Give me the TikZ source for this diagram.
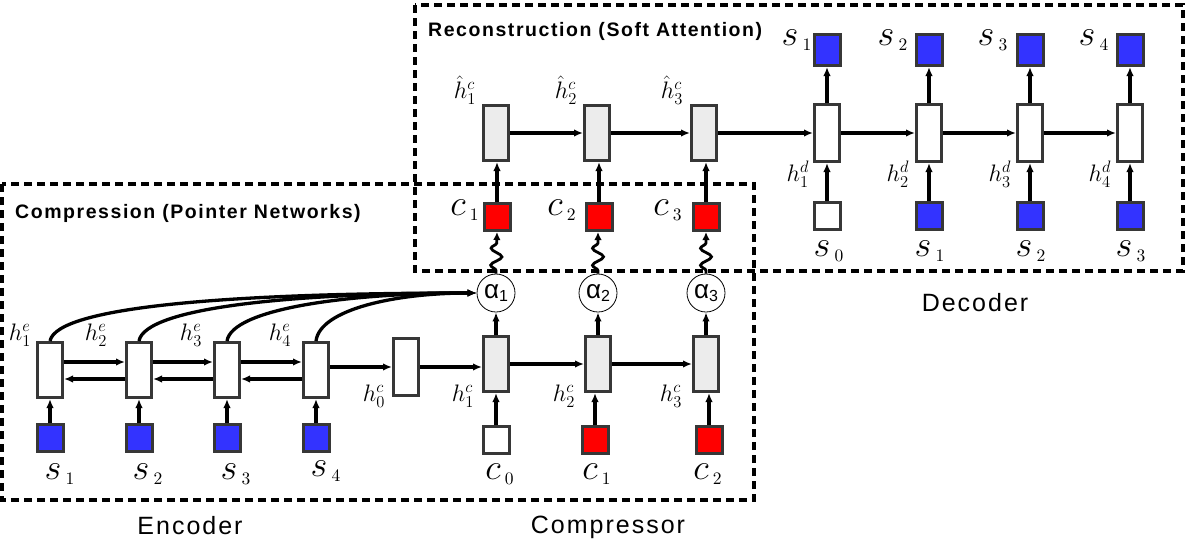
\documentclass[tikz,border=0pt]{standalone}
\usepackage{fontspec}
\usepackage{graphicx}
\setsansfont{Liberation Sans}
\newfontfamily\lsans[LetterSpace=8]{Liberation Sans}
\newfontfamily\asans{Liberation Sans}
\usetikzlibrary{arrows.meta,decorations.pathmorphing,calc}
\definecolor{sqblue}{RGB}{51,51,255}
\definecolor{sqred}{RGB}{255,0,0}
\definecolor{cellgray}{RGB}{236,236,236}
\definecolor{edge}{RGB}{55,55,55}
\newcommand{\BigL}[2]{\scalebox{1.75}{$#1_{\,\scriptscriptstyle #2}$}}
\newcommand{\SmL}[1]{\scalebox{1.38}{$#1$}}
\begin{document}
\begin{tikzpicture}[x=1pt,y=-1pt,
  cell/.style={draw=edge,line width=3pt,minimum width=25pt,minimum height=55pt,inner sep=0pt,fill=white},
  gcell/.style={cell,fill=cellgray},
  sq/.style={draw=edge,line width=3pt,minimum width=26pt,minimum height=27pt,inner sep=0pt},
  bsq/.style={sq,fill=sqblue},
  rsq/.style={sq,fill=sqred},
  wsq/.style={sq,fill=white},
  arr/.style={line width=3.2pt,-{Latex[length=9pt,width=7.5pt]}},
  curv/.style={line width=3.3pt,-{Latex[length=9pt,width=7.5pt]}},
  wave/.style={line width=2.8pt,-{Latex[length=8pt,width=7.5pt]},decorate,
    decoration={snake,amplitude=5.5pt,segment length=17pt,pre length=3pt,post length=9pt}},
  att/.style={draw,circle,line width=0.8pt,minimum size=38pt,inner sep=0pt,fill=white},
  box/.style={draw,line width=3.3pt,dash pattern=on 8pt off 5pt},
  lab/.style={inner sep=0pt,font=\fontsize{20}{22}\selectfont},
  hl/.style={inner sep=0pt,font=\fontsize{17.28}{19}\selectfont},
  ttl/.style={inner sep=0pt,anchor=west,font=\lsans\bfseries\fontsize{19.5}{22}\selectfont},
  captxt/.style={inner sep=0pt,font=\lsans\fontsize{25}{28}\selectfont}]
\useasboundingbox (0,0) rectangle (1186,542);

% dashed frames
\draw[box] (415,5) rectangle (1183,271);
\draw[box] (2,184) rectangle (754,500);
\node[ttl] (t1) at (15,213) {Compression (Pointer Networks)};
\node[ttl] (t2) at (428,31) {Reconstruction (Soft Attention)};

% encoder
\foreach \i/\x in {1/50,2/139,3/227,4/316}{
  \node[cell] (e\i) at (\x,370) {};
  \node[bsq] (es\i) at (\x,438) {};
  \draw[arr] (es\i.north) -- (e\i.south);
}
\node[lab] (ls1) at (60,474) {\BigL{s}{1}};
\node[lab] (ls2) at (148,474) {\BigL{s}{2}};
\node[lab] (ls3) at (236,474) {\BigL{s}{3}};
\node[lab] (ls4) at (326,471) {\BigL{s}{4}};
\node[hl] (he1) at (20,335) {\SmL{h_1^e}};
\node[hl] (he2) at (96,335) {\SmL{h_2^e}};
\node[hl] (he3) at (191,335) {\SmL{h_3^e}};
\node[hl] (he4) at (280,335) {\SmL{h_4^e}};
\foreach \a/\b in {1/2,2/3,3/4}{
  \draw[arr] ($(e\a.east)+(0,-8)$) -- ($(e\b.west)+(0,-8)$);
  \draw[arr] ($(e\b.west)+(0,9)$) -- ($(e\a.east)+(0,9)$);
}

% h0 and compressor
\node[cell,minimum height=57pt] (h0) at (406,367) {};
\draw[arr] ($(e4.east)+(0,-3)$) -- (h0.west);
\node[hl] (lh0) at (374,396) {\SmL{h_0^c}};

\foreach \i/\x in {1/496,2/598,3/706}{
  \node[gcell] (k\i) at (\x,364) {};
  \node[att] (a\i) at (\x,293) {};
  \draw[arr] (k\i.north) -- (a\i.south);
  \node[inner sep=0pt] (al\i) at (a\i) {\fontsize{26}{26}\selectfont\asans α\raisebox{-3pt}{\fontsize{16}{16}\selectfont\i}};
}
\draw[arr] (h0.east) -- (h0.east -| k1.west);
\draw[arr] (k1.east) -- (k2.west);
\draw[arr] (k2.east) -- (k3.west);
\node[wsq] (ci0) at (496,440) {};
\node[rsq] (ci1) at (595,440) {};
\node[rsq] (ci2) at (709,440) {};
\draw[arr] (ci0.north) -- (k1.south);
\draw[arr] (ci1.north) -- (ci1.north |- k2.south);
\draw[arr] (ci2.north) -- (ci2.north |- k3.south);
\node[lab] (lc0) at (500,474) {\BigL{c}{0}};
\node[lab] (lc1) at (597,474) {\BigL{c}{1}};
\node[lab] (lc2) at (708,474) {\BigL{c}{2}};
\node[hl] (lk1) at (463,396) {\SmL{h_1^c}};
\node[hl] (lk2) at (564,396) {\SmL{h_2^c}};
\node[hl] (lk3) at (671,396) {\SmL{h_3^c}};

% attention curves
\draw[curv] (e1.north) .. controls +(7,-36) and +(-230,0) .. (a1.west);
\draw[curv] (e2.north) .. controls +(6,-34) and +(-180,0) .. (a1.west);
\draw[curv] (e3.north) .. controls +(5,-32) and +(-130,0) .. (a1.west);
\draw[curv] (e4.north) .. controls +(4,-32) and +(-80,0) .. (a1.west);

% red c squares and waves
\node[rsq] (rc1) at (497,217) {};
\node[rsq] (rc2) at (599,217) {};
\node[rsq] (rc3) at (706,217) {};
\draw[wave] (a1.north) -- (rc1.south);
\draw[wave] (a2.north) -- (a2.north |- rc2.south);
\draw[wave] (a3.north) -- (rc3.south);
\node[lab] (lrc1) at (465,210) {\BigL{c}{1}};
\node[lab] (lrc2) at (562,210) {\BigL{c}{2}};
\node[lab] (lrc3) at (668,210) {\BigL{c}{3}};

% reconstruction
\node[gcell] (r1) at (496,133) {};
\node[gcell] (r2) at (597,133) {};
\node[gcell] (r3) at (704,133) {};
\draw[arr] (rc1.north) -- (rc1.north |- r1.south);
\draw[arr] (rc2.north) -- (rc2.north |- r2.south);
\draw[arr] (rc3.north) -- (rc3.north |- r3.south);
\node[hl] (lr1) at (465,90) {\SmL{\hat{h}_1^c}};
\node[hl] (lr2) at (566,90) {\SmL{\hat{h}_2^c}};
\node[hl] (lr3) at (672,90) {\SmL{\hat{h}_3^c}};

% decoder
\foreach \i/\x in {1/827,2/929,3/1030,4/1130}{
  \node[cell,minimum height=57pt] (d\i) at (\x,133) {};
  \node[bsq,minimum height=31pt] (do\i) at (\x,50) {};
  \draw[arr] (d\i.north) -- (do\i.south);
}
\node[wsq] (di0) at (827,216) {};
\node[bsq] (di1) at (929,216) {};
\node[bsq] (di2) at (1030,216) {};
\node[bsq] (di3) at (1130,216) {};
\draw[arr] (di0.north) -- (d1.south);
\draw[arr] (di1.north) -- (d2.south);
\draw[arr] (di2.north) -- (d3.south);
\draw[arr] (di3.north) -- (d4.south);
\draw[arr] (r1.east) -- (r2.west);
\draw[arr] (r2.east) -- (r3.west);
\draw[arr] (r3.east) -- (d1.west);
\draw[arr] (d1.east) -- (d2.west);
\draw[arr] (d2.east) -- (d3.west);
\draw[arr] (d3.east) -- (d4.west);
\node[lab] (lo1) at (797,40) {\BigL{s}{1}};
\node[lab] (lo2) at (893,40) {\BigL{s}{2}};
\node[lab] (lo3) at (993,40) {\BigL{s}{3}};
\node[lab] (lo4) at (1094,40) {\BigL{s}{4}};
\node[lab] (li0) at (829,251) {\BigL{s}{0}};
\node[lab] (li1) at (930,251) {\BigL{s}{1}};
\node[lab] (li2) at (1031,251) {\BigL{s}{2}};
\node[lab] (li3) at (1131,251) {\BigL{s}{3}};
\node[hl] (ld1) at (798,174) {\SmL{h_1^d}};
\node[hl] (ld2) at (898,174) {\SmL{h_2^d}};
\node[hl] (ld3) at (1000,174) {\SmL{h_3^d}};
\node[hl] (ld4) at (1100,174) {\SmL{h_4^d}};

% captions
\node[captxt] (cEnc) at (190,526) {Encoder};
\node[captxt] (cCmp) at (608,527) {Compressor};
\node[captxt] (cDec) at (975,303) {Decoder};
\end{tikzpicture}
\end{document}
